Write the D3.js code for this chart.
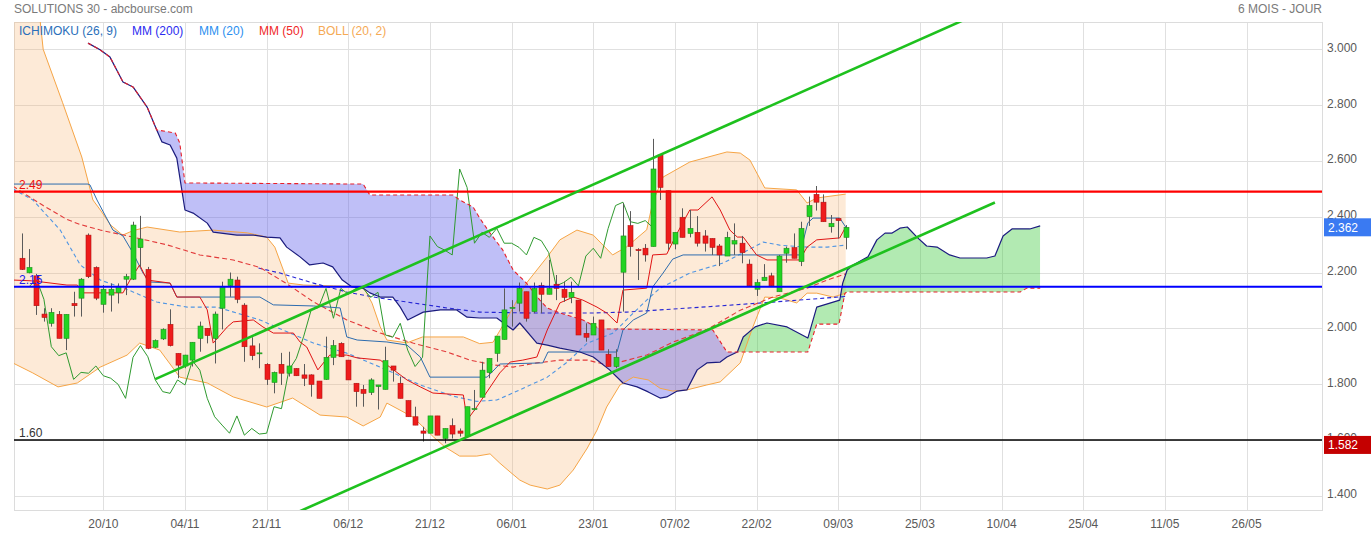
<!DOCTYPE html>
<html><head><meta charset="utf-8">
<script src="https://cdn.jsdelivr.net/npm/d3@7"></script>
<style>
body{margin:0;background:#fff;}
svg{display:block;font-family:"Liberation Sans",Arial,sans-serif;}
</style>
</head><body>
<svg id="c" width="1371" height="534"></svg>
<script>
// ---------- DATA ----------
const startIndex = -11; // index of first candle (index 0 = 20/10)
const opens = [2.251,2.199,2.188,2.051,2.018,2.050,1.964,2.089,2.108,2.334,2.218,
 2.086,2.119,2.128,2.176,2.176,2.289,2.211,1.932,1.962,2.014,
 1.910,1.865,1.886,1.964,2.000,1.964,2.072,2.153,2.173,2.083,
 1.937,1.912,1.871,1.806,1.871,1.839,1.856,1.833,1.833,1.811,
 1.817,1.896,1.946,1.886,1.803,1.781,1.770,1.791,1.781,1.865,
 1.803,1.741,1.683,1.632,1.624,1.686,1.605,1.651,1.632,1.612,
 1.709,1.753,1.841,1.910,1.960,2.072,2.090,2.131,2.060,2.153,
 2.122,2.158,2.140,2.111,2.101,1.982,1.976,2.030,1.907,1.863,
 2.201,2.368,2.282,2.287,2.293,2.621,2.493,2.302,2.398,2.340,
 2.344,2.331,2.322,2.295,2.259,2.302,2.305,2.230,2.140,2.171,
 2.188,2.131,2.269,2.289,2.239,2.400,2.480,2.452,2.364,2.393,2.326];
const highs = [2.340,2.284,2.195,2.072,2.072,2.062,2.050,2.131,2.180,2.340,2.222,
 2.155,2.161,2.161,2.195,2.382,2.403,2.220,1.960,2.000,2.068,
 1.910,1.905,1.950,2.024,2.000,2.060,2.167,2.200,2.185,2.090,
 1.968,1.946,1.875,1.845,1.912,1.916,1.857,1.872,1.835,1.811,
 1.970,1.958,1.950,1.886,1.803,1.797,1.821,1.797,1.934,1.865,
 1.827,1.741,1.719,1.647,1.686,1.686,1.641,1.677,1.641,1.719,
 1.779,1.880,1.892,1.972,2.143,2.101,2.164,2.131,2.164,2.164,
 2.245,2.191,2.167,2.167,2.101,2.018,2.042,2.030,1.925,1.925,
 2.448,2.420,2.287,2.302,2.679,2.621,2.493,2.344,2.430,2.424,
 2.402,2.352,2.322,2.302,2.346,2.376,2.331,2.247,2.176,2.230,
 2.199,2.263,2.293,2.340,2.382,2.472,2.510,2.480,2.406,2.396,2.370];
const lows = [2.209,2.197,2.048,2.024,2.006,1.964,1.922,2.042,2.042,2.180,2.101,
 2.056,2.060,2.089,2.119,2.173,2.221,1.925,1.929,1.958,1.935,
 1.821,1.857,1.863,1.916,1.946,1.874,1.996,2.113,2.090,1.880,
 1.886,1.857,1.797,1.767,1.797,1.827,1.829,1.793,1.755,1.749,
 1.815,1.868,1.898,1.815,1.719,1.719,1.761,1.709,1.781,1.809,
 1.749,1.683,1.653,1.594,1.624,1.617,1.588,1.605,1.612,1.612,
 1.705,1.753,1.821,1.880,1.960,2.006,2.060,2.024,2.054,2.054,
 2.122,2.101,2.095,2.090,1.976,1.952,1.976,1.922,1.863,1.857,
 2.060,2.257,2.173,2.239,2.293,2.460,2.281,2.283,2.326,2.326,
 2.293,2.275,2.263,2.223,2.259,2.263,2.233,2.152,2.116,2.171,
 2.152,2.131,2.235,2.251,2.223,2.367,2.422,2.382,2.343,2.322,2.283];
const closes = [2.211,2.218,2.081,2.039,2.057,1.964,2.050,2.081,2.176,2.185,2.108,
 2.140,2.140,2.149,2.185,2.370,2.320,1.928,1.956,1.996,1.938,
 1.868,1.904,1.950,2.008,1.974,2.051,2.149,2.176,2.104,1.934,
 1.902,1.912,1.817,1.842,1.839,1.865,1.830,1.821,1.799,1.749,
 1.896,1.938,1.898,1.815,1.773,1.767,1.815,1.797,1.884,1.850,
 1.749,1.683,1.653,1.624,1.686,1.617,1.641,1.621,1.624,1.719,
 1.712,1.850,1.892,1.972,2.066,2.075,2.143,2.036,2.143,2.122,
 2.143,2.143,2.111,2.129,1.976,1.968,2.018,1.922,1.863,1.896,
 2.331,2.293,2.280,2.263,2.571,2.505,2.305,2.344,2.326,2.358,
 2.305,2.305,2.290,2.263,2.326,2.314,2.271,2.152,2.164,2.183,
 2.152,2.259,2.287,2.251,2.358,2.440,2.452,2.382,2.376,2.386,2.362];

const xTickIdx = [0,11,22,33,44,55,66,77,88,99,110,121,132,143,154];
const xTickLabels = ["20/10","04/11","21/11","06/12","21/12","06/01","23/01","07/02","22/02","09/03","25/03","10/04","25/04","11/05","26/05"];
const yTicks = [1.4,1.6,1.8,2.0,2.2,2.4,2.6,2.8,3.0];

// indicator lines: [bar index, value]
const bollUpper = [[-12.2,3.55],[-8.5,3.10],[-8.1,3.00],[-5.5,2.81],[-2.9,2.614],[-1.4,2.46],[-0.4,2.424],[1,2.37],[2.6,2.334],[4,2.35],[5.9,2.363],[10.3,2.345],[14.8,2.352],[19.4,2.342],[22,2.327],[23.1,2.291],[24.9,2.162],[27,2.155],[31,2.152],[35,2.150],[36.2,2.09],[37.3,2.005],[38.2,1.958],[40.9,1.948],[43,1.969],[48.5,1.969],[50.7,1.945],[52.5,1.95],[54.8,2.055],[57,2.162],[59.8,2.256],[61.5,2.317],[63.8,2.352],[66,2.334],[68.6,2.263],[70.5,2.292],[73.2,2.353],[74,2.45],[75.4,2.542],[79,2.596],[84,2.632],[85.8,2.628],[87.1,2.603],[89.1,2.503],[93.4,2.496],[94.8,2.449],[96.1,2.467],[100,2.481]];
const bollLower = [[-12.2,1.876],[-9.5,1.840],[-6.1,1.790],[-3.5,1.804],[-0.4,1.861],[3.2,1.904],[4.9,1.947],[7.6,1.922],[10.3,1.825],[14,1.804],[17.5,1.754],[22,1.718],[25.5,1.750],[29.2,1.689],[32.8,1.682],[35,1.650],[37.3,1.682],[38.2,1.732],[41.7,1.682],[44.5,1.610],[46,1.575],[48,1.542],[50.3,1.542],[52.1,1.550],[53.4,1.517],[54.8,1.485],[56.1,1.456],[57.5,1.438],[59.8,1.424],[61.5,1.438],[63.3,1.492],[65.2,1.571],[66.5,1.635],[67.8,1.718],[69.6,1.797],[71.4,1.825],[73.4,1.815],[75,1.785],[76.7,1.775],[78.6,1.779],[81.3,1.797],[83.1,1.808],[85.8,1.876],[87.5,2.005],[89.1,2.112],[91.1,2.109],[93.4,2.091],[94.8,2.126],[96.1,2.126],[98.3,2.112],[100,2.126]];
const mm20 = [[-12.2,2.50],[-9.5,2.460],[-5.8,2.352],[-3.1,2.227],[-0.4,2.173],[3.6,2.135],[7.2,2.094],[11.3,2.076],[15.3,2.076],[21.1,2.030],[24.2,1.994],[28.3,1.947],[32.8,1.911],[37.3,1.861],[42.7,1.797],[47.1,1.757],[50.3,1.738],[53,1.743],[56.1,1.779],[59.8,1.825],[62.5,1.879],[65.2,1.947],[68.7,1.983],[71.4,2.055],[73.2,2.101],[75,2.144],[79,2.198],[83.5,2.234],[88.9,2.309],[91.1,2.298],[94.8,2.291],[97.5,2.291],[100,2.298]];
const mm50 = [[-12.2,2.51],[-10.8,2.485],[-8.1,2.44],[-4.9,2.39],[-3.1,2.372],[-0.4,2.352],[4,2.327],[8.6,2.299],[13,2.263],[17.5,2.245],[21.1,2.218],[24.7,2.160],[28.3,2.095],[32.8,2.030],[37.3,1.983],[41.7,1.947],[46.3,1.915],[49.4,1.886],[52.5,1.869],[55.2,1.861],[58.4,1.876],[61.5,1.886],[65.2,1.886],[67.8,1.869],[69.6,1.879],[73.2,1.904],[76.7,1.950],[81.3,1.995],[85.8,2.065],[90.2,2.112],[94.8,2.144],[97.5,2.173],[100,2.195]];
const mm200 = [[20.9,2.216],[23.8,2.198],[28.3,2.162],[32.8,2.130],[37.3,2.108],[41.7,2.091],[46.3,2.073],[50.7,2.058],[57,2.055],[66,2.055],[70.5,2.058],[75,2.066],[81.3,2.077],[90.2,2.094],[100,2.114]];
const kijun = [[-12.2,2.517],[-2.06,2.517],[-1.8,2.514],[-0.85,2.460],[0,2.417],[1.3,2.352],[2.65,2.331],[4,2.270],[5.35,2.198],[6.3,2.166],[9,2.162],[9.9,2.112],[21.1,2.112],[22.9,2.084],[28.3,2.080],[31.9,2.073],[32.8,1.969],[34.2,1.958],[38.2,1.951],[40.9,1.940],[42.7,1.897],[44,1.825],[51.7,1.825],[53.4,1.872],[59.2,1.876],[59.9,1.915],[69.2,1.915],[70,1.994],[71.4,2.030],[73.2,2.055],[74,2.148],[75.4,2.198],[76.7,2.248],[78.1,2.263],[93.8,2.263],[94.9,2.378],[95.6,2.395],[99.2,2.395],[100,2.363]];
const tenkan = [[-12.2,2.173],[-9.5,2.170],[-4.9,2.155],[-3.5,2.155],[-2.7,2.127],[2.65,2.127],[3.6,2.173],[4.9,2.227],[5.9,2.173],[9,2.162],[9.9,2.112],[13,2.112],[14,2.066],[14.8,1.947],[16.7,2.005],[17.5,2.023],[20.2,2.030],[21.5,2.005],[22.9,1.983],[25.6,1.983],[26.5,1.951],[27.4,1.933],[28.9,1.851],[30.5,1.904],[32.8,1.904],[34.2,1.894],[37.3,1.886],[38.6,1.861],[40.9,1.815],[42.7,1.790],[44.4,1.768],[48.5,1.761],[49,1.671],[50.3,1.718],[53.4,1.840],[54.8,1.879],[56.5,1.886],[58.4,1.897],[59.8,1.994],[61.5,2.091],[63.3,2.112],[64.6,2.101],[66.5,2.076],[67.8,2.055],[69.2,2.019],[70,2.137],[73.2,2.144],[74,2.263],[75.9,2.266],[77.3,2.341],[79,2.424],[80.1,2.424],[82,2.471],[83.1,2.424],[84.4,2.352],[85.4,2.327],[86.2,2.327],[88,2.263],[89.4,2.245],[93.8,2.245],[94.8,2.291],[96.1,2.317],[99.2,2.324],[100,2.363]];
const senkouA = [[-2.06,3.022],[-0.44,2.998],[0.9,2.972],[2.65,2.883],[4,2.865],[5.9,2.793],[7.2,2.711],[7.9,2.668],[9,2.657],[9.9,2.610],[10.3,2.542],[11,2.424],[12.1,2.413],[14,2.377],[14.8,2.345],[18,2.334],[20.2,2.334],[22,2.327],[23.8,2.324],[24.7,2.291],[26.5,2.256],[27.8,2.227],[29.6,2.234],[30.9,2.220],[32.2,2.173],[33.5,2.148],[35,2.144],[35.9,2.127],[37.3,2.112],[39,2.112],[40,2.076],[41,2.030],[43.1,2.058],[45.4,2.066],[47.6,2.066],[49,2.040],[50.7,2.037],[53,2.037],[55.2,1.994],[56.1,2.019],[58.4,1.947],[59.8,1.940],[61.5,1.929],[64.2,1.915],[66,1.897],[68.2,1.851],[70,1.804],[71.9,1.790],[73.4,1.772],[75,1.750],[75.9,1.754],[77.3,1.775],[78.6,1.779],[80,1.851],[81.3,1.876],[83.1,1.879],[84,1.897],[85.4,1.915],[86.2,1.969],[87.8,2.005],[89.4,2.019],[92.1,2.005],[94.9,1.965],[96.1,2.076],[99.2,2.101],[99.6,2.162],[100.2,2.209],[101,2.227],[103,2.256],[104.2,2.317],[105.3,2.341],[106.2,2.341],[107.3,2.359],[108.3,2.363],[109.6,2.327],[110.9,2.295],[112.3,2.291],[114,2.263],[115.4,2.252],[119,2.252],[120.1,2.259],[121.2,2.331],[122.4,2.356],[124.8,2.356],[126.2,2.367]];
const senkouB = [[-2.06,3.022],[-0.44,2.998],[0.9,2.972],[2.65,2.883],[4,2.865],[5.9,2.793],[7.2,2.711],[9.7,2.700],[10.3,2.664],[11,2.521],[35,2.517],[35.9,2.478],[47.1,2.478],[48,2.460],[49.8,2.435],[50.7,2.395],[52.1,2.341],[53.8,2.281],[55.2,2.209],[57,2.162],[58.8,2.101],[59.8,2.073],[61.5,2.055],[64.6,2.030],[66.9,1.998],[82.1,1.994],[84,1.915],[94.9,1.915],[96.1,2.015],[99.1,2.015],[99.9,2.126],[100.2,2.130],[123.5,2.130],[124.4,2.144],[126.2,2.144]];
const chikouShift = 26;
const chikouFirstIndex = -10;

const trendUpper = [[7,1.818],[116,3.106]];
const trendLower = [[25,1.327],[120.1,2.451]];
const hLevels = [2.49, 2.149, 1.60];
const hLabels = ["2.49", "2.15", "1.60"];
const badgeValues = [2.362, 1.582];
const legendItems = ["ICHIMOKU (26, 9)", "MM (200)", "MM (20)", "MM (50)", "BOLL (20, 2)"];

// ---------- LAYOUT / STYLE ----------
const plot = {l:14, r:1322, t:22, b:510};
const x = d3.scaleLinear().domain([-12.03, 164.16]).range([plot.l, plot.r]);
const y = d3.scaleLinear().domain([1.3488, 3.0978]).range([plot.b, plot.t]);
const svg = d3.select("#c");
const defs = svg.append("defs");
defs.append("clipPath").attr("id","plotClip").append("rect")
  .attr("x",plot.l).attr("y",plot.t).attr("width",plot.r-plot.l).attr("height",plot.b-plot.t);

// grid
const grid = svg.append("g").attr("shape-rendering","crispEdges");
grid.selectAll(".hg").data(yTicks).join("line")
  .attr("x1",plot.l).attr("x2",plot.r)
  .attr("y1",d=>Math.round(y(d))+0.5).attr("y2",d=>Math.round(y(d))+0.5)
  .attr("stroke","#e0e0e0");
grid.selectAll(".vg").data(xTickIdx).join("line")
  .attr("y1",plot.t).attr("y2",plot.b)
  .attr("x1",d=>Math.round(x(d))+0.5).attr("x2",d=>Math.round(x(d))+0.5)
  .attr("stroke","#e0e0e0");
grid.append("rect").attr("x",plot.l+0.5).attr("y",plot.t+0.5)
  .attr("width",plot.r-plot.l).attr("height",plot.b-plot.t)
  .attr("fill","none").attr("stroke","#dcdcdc");

const P = svg.append("g").attr("clip-path","url(#plotClip)");
const line = d3.line().x(d=>x(d[0])).y(d=>y(d[1]));

// Bollinger fill
P.append("path").attr("d", line(bollUpper.concat(bollLower.slice().reverse()))+"Z")
  .attr("fill","rgba(247,175,100,0.26)");

// Ichimoku cloud (blue where B above A, green where A above B)
const bandD = line(senkouA.concat(senkouB.slice().reverse()))+"Z";
const aF = x(senkouA[0][0]), aL = x(senkouA[senkouA.length-1][0]);
defs.append("clipPath").attr("id","cAbove").append("path")
  .attr("d", line(senkouA)+`L${aL},${plot.t-60}L${aF},${plot.t-60}Z`);
defs.append("clipPath").attr("id","cBelow").append("path")
  .attr("d", line(senkouA)+`L${aL},${plot.b+60}L${aF},${plot.b+60}Z`);
P.append("g").attr("clip-path","url(#cAbove)").append("path").attr("d",bandD).attr("fill","rgba(95,95,235,0.40)");
P.append("g").attr("clip-path","url(#cBelow)").append("path").attr("d",bandD).attr("fill","rgba(62,202,62,0.40)");

function drawLine(data, color, width, dash){
  const p = P.append("path").attr("d", line(data)).attr("fill","none")
    .attr("stroke",color).attr("stroke-width",width).attr("stroke-linejoin","round");
  if (dash) p.attr("stroke-dasharray", dash);
  return p;
}
drawLine(bollUpper, "#f6a546", 1);
drawLine(bollLower, "#f6a546", 1);
drawLine(mm200, "#2626d4", 1.1, "4,3");
drawLine(mm50, "#e23a3a", 1.1, "5,3");
drawLine(mm20, "#4f95e3", 1.1, "4,3");
const chikou = closes.map((c,k)=>[startIndex+k-chikouShift, c]).filter(d=>d[0]>=chikouFirstIndex);
drawLine(chikou, "#2f9a2f", 1);
drawLine(kijun, "#2d6cae", 1);
drawLine(tenkan, "#e01414", 1);
drawLine(senkouA, "#1b1b7e", 1.2);
drawLine(senkouB, "#e8202a", 1.1, "4,3");

// candles
const bars = closes.map((c,k)=>({i:startIndex+k, o:opens[k], h:highs[k], l:lows[k], c:c}));
const cg = P.append("g");
cg.selectAll(".w").data(bars).join("line")
  .attr("x1",d=>Math.round(x(d.i))+0.5).attr("x2",d=>Math.round(x(d.i))+0.5)
  .attr("y1",d=>y(d.h)).attr("y2",d=>y(d.l))
  .attr("stroke","#5a5a5a").attr("stroke-width",1);
cg.selectAll(".b").data(bars).join("rect")
  .attr("x",d=>Math.round(x(d.i))-2)
  .attr("width",5)
  .attr("y",d=>y(Math.max(d.o,d.c)))
  .attr("height",d=>Math.max(1, Math.abs(y(d.o)-y(d.c))))
  .attr("fill",d=>d.c>=d.o?"#22d322":"#ee1c1c")
  .attr("stroke",d=>d.c>=d.o?"#1d8f1d":"#b31212").attr("stroke-width",0.6);

// horizontal level lines
const hColors = ["#ff0000","#0000ff","#000000"];
P.selectAll(".hl").data(hLevels).join("line")
  .attr("x1",plot.l).attr("x2",plot.r)
  .attr("y1",d=>y(d)).attr("y2",d=>y(d))
  .attr("stroke",(d,k)=>hColors[k]).attr("stroke-width",(d,k)=>k==2?1.5:2.2);
svg.selectAll(".hlt").data(hLevels).join("text")
  .attr("x",19).attr("y",d=>y(d)-3)
  .attr("font-size",12).attr("fill",(d,k)=>["#ee1111","#2020ee","#333333"][k])
  .text((d,k)=>hLabels[k]);

// trend lines
drawLine(trendUpper, "#1ec11e", 2.6);
drawLine(trendLower, "#1ec11e", 2.6);

// axes labels
const yAx = svg.append("g");
yAx.selectAll("text").data(yTicks).join("text")
  .attr("x",1327).attr("y",d=>y(d)+2.5)
  .attr("font-size",12).attr("fill","#595959")
  .text(d=>d3.format(".3f")(d));
const xAx = svg.append("g");
xAx.selectAll("text").data(xTickIdx).join("text")
  .attr("x",d=>x(d)).attr("y",527.5).attr("text-anchor","middle")
  .attr("font-size",12).attr("fill","#595959")
  .text((d,k)=>xTickLabels[k]);

// badges
const badgeFill = ["#3a7af2","#c40000"];
const bg = svg.append("g");
bg.selectAll("rect").data(badgeValues).join("rect")
  .attr("x",1324).attr("y",d=>y(d)-9).attr("width",47).attr("height",18)
  .attr("fill",(d,k)=>badgeFill[k]);
bg.selectAll("text").data(badgeValues).join("text")
  .attr("x",1328).attr("y",d=>y(d)+4.5)
  .attr("font-size",12).attr("fill","#fff")
  .text(d=>d3.format(".3f")(d));

// title + legend
svg.append("text").attr("x",14).attr("y",12.5).attr("font-size",12).attr("fill","#7a7a7a")
  .text("SOLUTIONS 30 - abcbourse.com");
svg.append("text").attr("x",1322).attr("y",12.5).attr("text-anchor","end").attr("font-size",12).attr("fill","#7a7a7a")
  .text("6 MOIS - JOUR");
const legX = [19,132,199,259,318];
const legC = ["#2a6fba","#2b2bf0","#2b8ff0","#f02828","#f5aa55"];
svg.selectAll(".leg").data(legendItems).join("text")
  .attr("x",(d,k)=>legX[k]).attr("y",34.5).attr("font-size",12)
  .attr("fill",(d,k)=>legC[k]).text(d=>d);
</script>
</body></html>
